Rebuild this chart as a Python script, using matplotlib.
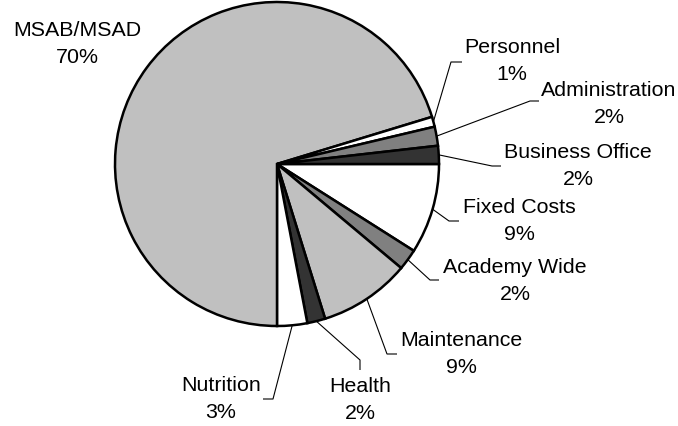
import matplotlib
matplotlib.use("Agg")
import matplotlib.pyplot as plt
import numpy as np

# Data (clockwise from 3 o'clock)
categories = ["Fixed Costs", "Academy Wide", "Maintenance", "Health", "Nutrition",
              "MSAB/MSAD", "Personnel", "Administration", "Business Office"]
values = [9.0, 2.1, 9.1, 1.8, 3.0, 70.3, 1.0, 1.9, 1.8]
colors = ["#FFFFFF", "#808080", "#C0C0C0", "#333333", "#FFFFFF",
          "#C0C0C0", "#FFFFFF", "#808080", "#333333"]

# Layout (pixel positions, y measured from top)
W, H = 678, 426
center_px = (277, 164)
radius_px = 162
label_center = {
    "MSAB/MSAD": (77, 44),
    "Personnel": (512, 61),
    "Administration": (609, 104),
    "Business Office": (578, 166),
    "Fixed Costs": (519, 221),
    "Academy Wide": (515, 281),
    "Maintenance": (461, 354),
    "Health": (360, 400),
    "Nutrition": (221, 399),
}
leader = {  # elbow, end
    "Personnel": ((451, 62), (462, 62)),
    "Administration": ((530, 101), (539, 101)),
    "Business Office": ((492, 166), (501, 166)),
    "Fixed Costs": ((449, 221), (459, 221)),
    "Academy Wide": ((430, 280), (439, 280)),
    "Maintenance": ((387, 354), (397, 354)),
    "Health": ((360, 360), (360, 370)),
    "Nutrition": ((273, 399), (263, 399)),
}

def P(x, y):
    return (x, H - y)

fig = plt.figure(figsize=(W / 100, H / 100), dpi=100)
ax = fig.add_axes([0, 0, 1, 1])

cx, cy = P(*center_px)
wedges, _ = ax.pie(values, colors=colors, startangle=0, counterclock=False,
                   center=(cx, cy), radius=radius_px,
                   wedgeprops=dict(edgecolor="black", linewidth=1.8))
ax.set_xlim(0, W)
ax.set_ylim(0, H)
ax.set_aspect("equal")
ax.axis("off")

total = sum(values)
for w, cat, v in zip(wedges, categories, values):
    pct = int(round(100 * v / total))
    lx, ly = P(*label_center[cat])
    ax.text(lx, ly, f"{cat}\n{pct}%", ha="center", va="center",
            fontsize=15.4, family="Liberation Sans", linespacing=1.55, color="black")
    if cat in leader:
        mid = np.deg2rad((w.theta1 + w.theta2) / 2)
        sx = cx + radius_px * np.cos(mid)
        sy = cy + radius_px * np.sin(mid)
        (ex, ey), (fx, fy) = leader[cat]
        ex, ey = P(ex, ey)
        fx, fy = P(fx, fy)
        ax.plot([sx, ex, fx], [sy, ey, fy], color="black", lw=0.8,
                solid_capstyle="butt", zorder=0.5)

fig.savefig("out.png", dpi=100)
